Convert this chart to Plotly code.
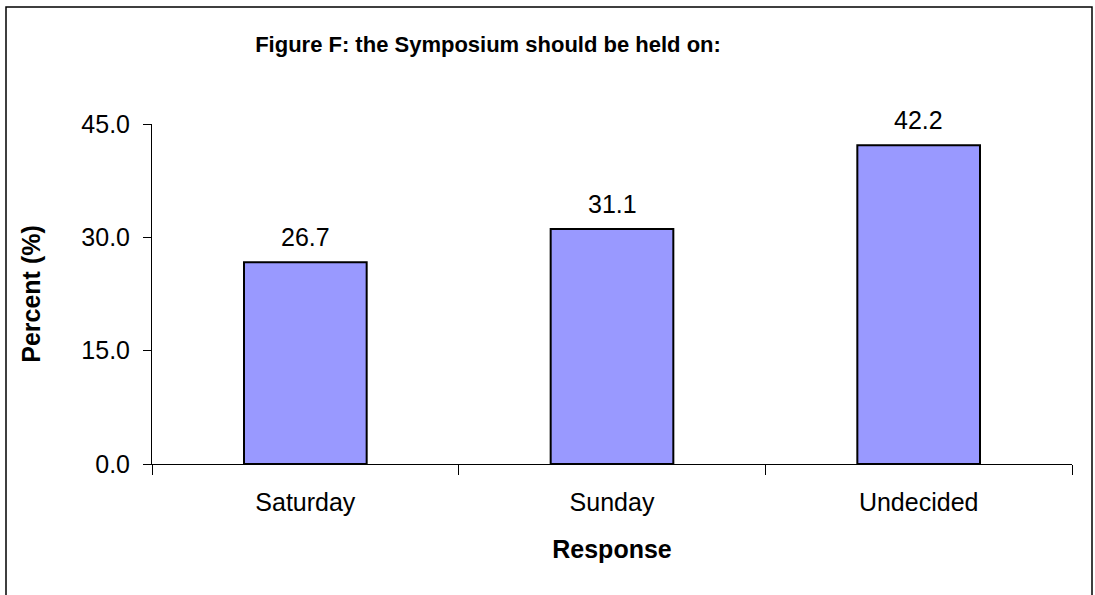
import plotly.graph_objects as go

# data
responses = ["Saturday", "Sunday", "Undecided"]
percents = [26.7, 31.1, 42.2]
y_ticks = [0, 15, 30, 45]

W, H = 1095, 595
L, R, T, B = 152, 23, 124, 131
pw, ph = W - L - R, H - T - B
FONT = "Liberation Sans, Arial"

fig = go.Figure()
fig.add_trace(go.Bar(
    x=responses, y=percents,
    marker=dict(color="#9999FF", line=dict(color="black", width=2)),
    width=0.4,
    hoverinfo="x+y",
))

# value labels above the bars
for r, p in zip(responses, percents):
    fig.add_annotation(x=r, y=p, text="%.1f" % p, showarrow=False,
                       yanchor="bottom", yshift=9,
                       font=dict(family=FONT, size=25, color="black"))

# frame round the whole chart
fig.add_shape(type="rect", xref="paper", yref="paper",
              x0=(6 - L) / pw, x1=(1092 - L) / pw,
              y0=-(H + 10 - (T + ph)) / ph, y1=(T + ph - 7) / ph,
              line=dict(color="black", width=1.5), fillcolor="rgba(0,0,0,0)", layer="below")

fig.update_layout(
    width=W, height=H,
    margin=dict(l=L, r=R, t=T, b=B),
    paper_bgcolor="white", plot_bgcolor="white",
    showlegend=False,
    font=dict(family=FONT, color="black"),
    title=dict(text="<b>Figure F: the Symposium should be held on:</b>",
               x=488 / W, xanchor="center", xref="container",
               y=1 - 44 / H, yanchor="middle",
               font=dict(size=22, color="black")),
    xaxis=dict(
        range=[-0.5, 2.5],
        showline=True, linecolor="black", linewidth=1,
        ticks="outside", tickson="boundaries", ticklen=10, tickcolor="black",
        tickfont=dict(size=25), ticklabelstandoff=16,
        title=dict(text="<b>Response</b>", font=dict(size=25), standoff=25),
        showgrid=False, zeroline=False,
    ),
    yaxis=dict(
        range=[0, 45],
        tickvals=y_ticks, tickformat=".1f",
        showline=True, linecolor="black", linewidth=1,
        ticks="outside", ticklen=8, tickcolor="black",
        tickfont=dict(size=25), ticklabelstandoff=8,
        title=dict(text="<b>Percent (%)</b>", font=dict(size=25), standoff=33),
        showgrid=False, zeroline=False,
    ),
)

fig.write_html("out.html", config={"displayModeBar": False},
               post_script="document.body.style.margin='0';")
